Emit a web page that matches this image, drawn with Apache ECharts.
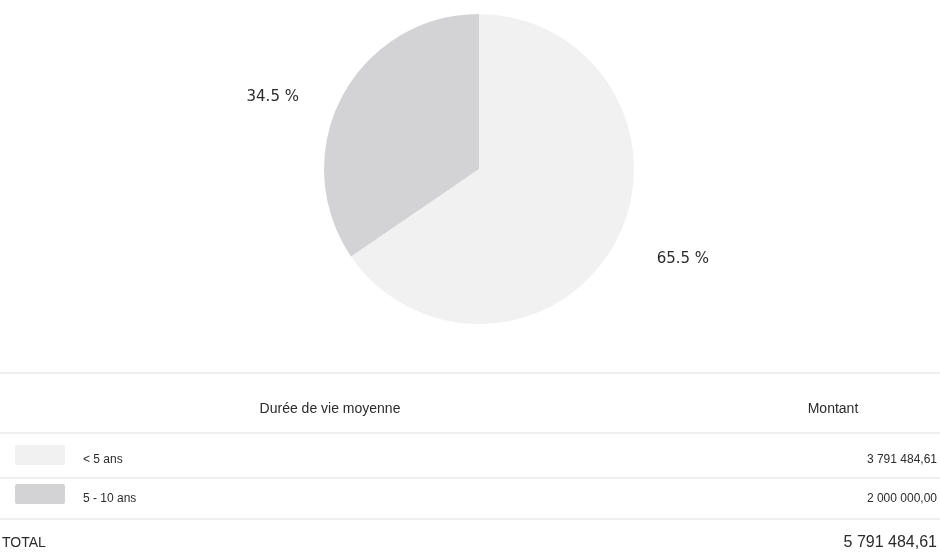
<!DOCTYPE html>
<html>
<head>
<meta charset="utf-8">
<script src="https://cdn.jsdelivr.net/npm/echarts@6/dist/echarts.min.js"></script>
<style>
  html, body { margin: 0; padding: 0; background: #fff; }
  #chart { width: 940px; height: 553px; }
</style>
</head>
<body>
<div id="chart"></div>
<script>
// Average lifetime buckets and their amounts
var categories = ['< 5 ans', '5 - 10 ans'];
var amounts = [3791484.61, 2000000.00];
var sliceColors = ['#f1f1f2', '#d3d3d5'];
var headerLabels = ['Durée de vie moyenne', 'Montant'];
var totalLabel = 'TOTAL';

var FONT = '"Liberation Sans", Arial, sans-serif';
var LABEL_FONT = '"DejaVu Sans", Verdana, sans-serif';
var TEXT = '#2b2b2b';
var RULE = '#efefef';

function formatAmount(v) {
  var parts = v.toFixed(2).split('.');
  var intPart = parts[0].replace(/\B(?=(\d{3})+(?!\d))/g, ' ');
  return intPart + ',' + parts[1];
}

var total = amounts.reduce(function (a, b) { return a + b; }, 0);

// label leader geometry per slice (lines themselves are hidden)
var leader = [{ length: 38, length2: 2 }, { length: 0, length2: 38 }];

var pieData = categories.map(function (c, i) {
  return { name: c, value: amounts[i], itemStyle: { color: sliceColors[i] },
    labelLine: { show: false, length: leader[i].length, length2: leader[i].length2 } };
});

// Legend table under the pie
var graphics = [];
function rule(y) {
  graphics.push({ type: 'rect', shape: { x: 0, y: y, width: 940, height: 2 },
    style: { fill: RULE }, silent: true });
}
function text(x, y, s, align, size) {
  graphics.push({ type: 'text', x: x, y: y, silent: true,
    style: { text: s, fill: TEXT, font: (size || 12) + 'px ' + FONT,
      textAlign: align || 'left', textVerticalAlign: 'middle' } });
}

rule(372);
text(330, 409, headerLabels[0], 'center', 14);
text(833, 409, headerLabels[1], 'center', 14);
rule(432);

var rowY = [460, 499];
categories.forEach(function (c, i) {
  graphics.push({ type: 'rect', shape: { x: 15, y: rowY[i] - 15, width: 50, height: 20, r: 2 },
    style: { fill: sliceColors[i] }, silent: true });
  text(83, rowY[i], c, 'left', 12);
  text(937, rowY[i], formatAmount(amounts[i]), 'right', 12);
});
rule(477);
rule(518);
text(2, 543, totalLabel, 'left', 14);
text(937, 543, formatAmount(total), 'right', 16);

var chart = echarts.init(document.getElementById('chart'));
chart.setOption({
  backgroundColor: '#ffffff',
  animation: false,
  series: [{
    type: 'pie',
    center: [479, 169],
    radius: 155,
    startAngle: 90,
    clockwise: true,
    percentPrecision: 1,
    data: pieData,
    itemStyle: { borderWidth: 0 },
    label: {
      show: true,
      position: 'outside',
      formatter: '{d} %',
      color: TEXT,
      fontFamily: LABEL_FONT,
      fontSize: 15
    },
    labelLine: { show: false },
    emphasis: { disabled: true }
  }],
  graphic: graphics
});
</script>
</body>
</html>
